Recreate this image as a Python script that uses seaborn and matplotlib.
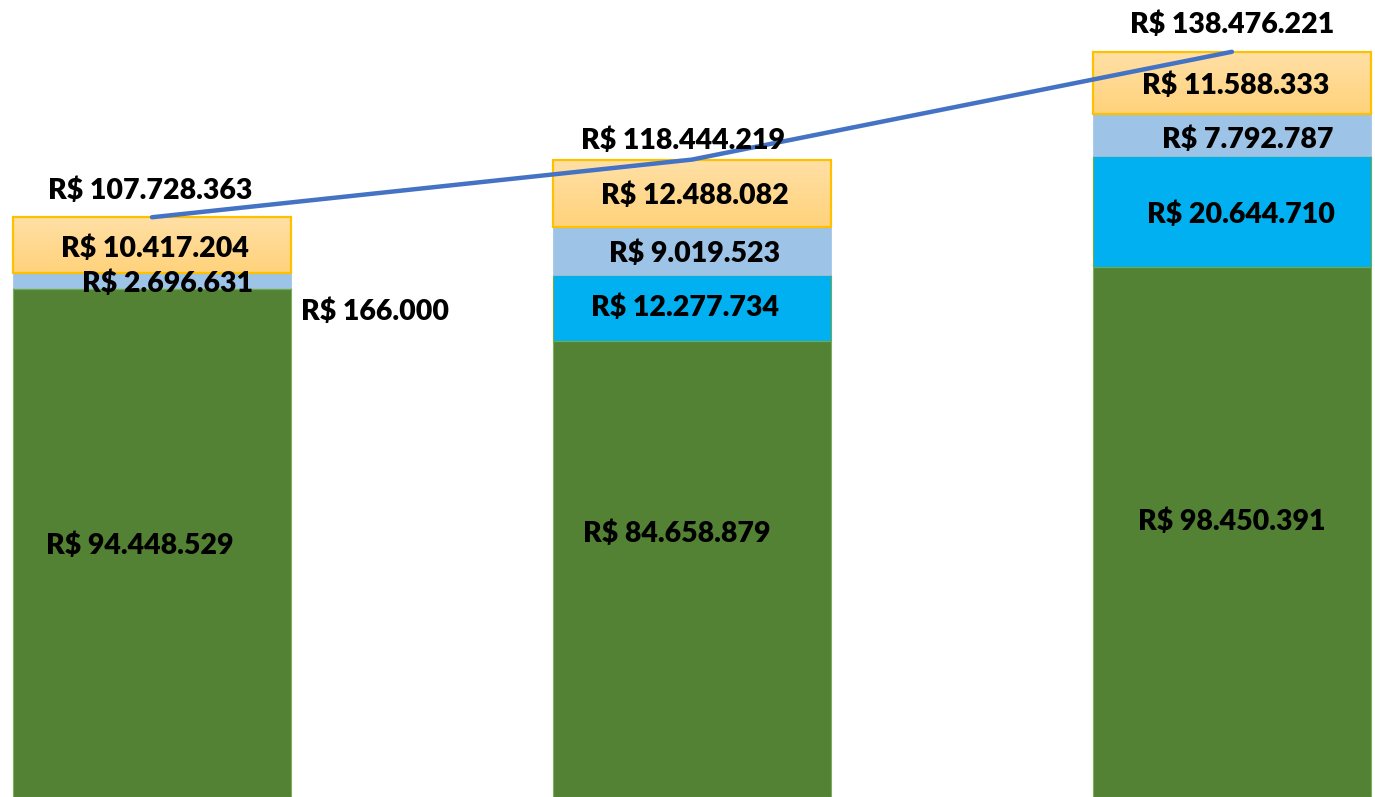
import numpy as np
import matplotlib
matplotlib.use("Agg")
import matplotlib.pyplot as plt
import matplotlib.colors as mcolors
import seaborn as sns

# valores em reais por periodo
categories = ["Período 1", "Período 2", "Período 3"]
green_vals = [94448529, 84658879, 98450391]
cyan_vals = [166000, 12277734, 20644710]
lightblue_vals = [2696631, 9019523, 7792787]
orange_vals = [10417204, 12488082, 11588333]
totals = [107728363, 118444219, 138476221]

# deslocamento dos rotulos em pixels (dx, dy), dy positivo = para cima
green_off = [(-12, -3), (-15, 35), (0, 10)]
cyan_off = [(223, -23), (-7, 1), (9, -3)]
lightblue_off = [(16, -3), (3, -3), (16, -5)]
orange_off = [(3, -3), (3, -3), (4, -3)]
total_off = [(-2, 27), (-9, 19), (0, 27)]


def brl(v):
    return "R$ " + f"{v:,}".replace(",", ".")


sns.set_theme(style="white")
plt.rcParams["font.family"] = ["Lato", "DejaVu Sans"]

fig = plt.figure(figsize=(13.75, 7.97), dpi=100)
ax = fig.add_axes([0, 0, 1, 1])

bottom = np.zeros(3)
layers = [
    (green_vals, "#548235", "#7FAE5A", 0.8),
    (cyan_vals, "#00B0F0", "#70AD47", 0.8),
    (lightblue_vals, "#9DC3E6", "#9DC3E6", 0.5),
    (orange_vals, "none", "#FFC000", 1.6),
]
containers = []
for vals, fc, ec, lw in layers:
    sns.barplot(x=categories, y=vals, bottom=bottom, width=0.515, color="white",
                errorbar=None, ax=ax, zorder=3)
    cont = ax.containers[-1]
    for p in cont:
        p.set_facecolor(fc)
        p.set_edgecolor(ec)
        p.set_linewidth(lw)
    containers.append(cont)
    bottom = bottom + np.array(vals)

# degradê do segmento laranja
grad = np.linspace(0, 1, 256).reshape(-1, 1)
cmap = mcolors.LinearSegmentedColormap.from_list("lar", ["#FFD27B", "#FFE0A6"])
for p in containers[-1]:
    x0, y0 = p.get_x(), p.get_y()
    w, h = p.get_width(), p.get_height()
    im = ax.imshow(grad, extent=[x0, x0 + w, y0, y0 + h], origin="lower",
                   cmap=cmap, aspect="auto", zorder=2.9)
    im.set_clip_path(p)

sns.lineplot(x=np.arange(3), y=totals, color="#4472C4", linewidth=3.2,
             ax=ax, zorder=6)

ax.set_xlim(-0.2815, 2.265)
ax.set_ylim(0, 148.1e6)
ax.axis("off")

txt = dict(ha="center", va="center", fontsize=20.5, fontweight=800,
           color="black", textcoords="offset points", zorder=7)

bottom = np.zeros(3)
for vals, offs in [(green_vals, green_off), (cyan_vals, cyan_off),
                   (lightblue_vals, lightblue_off), (orange_vals, orange_off)]:
    for i, v in enumerate(vals):
        dx, dy = offs[i]
        ax.annotate(brl(v), xy=(i, bottom[i] + v / 2),
                    xytext=(dx * 0.72, dy * 0.72), **txt)
    bottom = bottom + np.array(vals)

for i, v in enumerate(totals):
    dx, dy = total_off[i]
    ax.annotate(brl(v), xy=(i, v), xytext=(dx * 0.72, dy * 0.72), **txt)

fig.savefig("out.png", dpi=100)
